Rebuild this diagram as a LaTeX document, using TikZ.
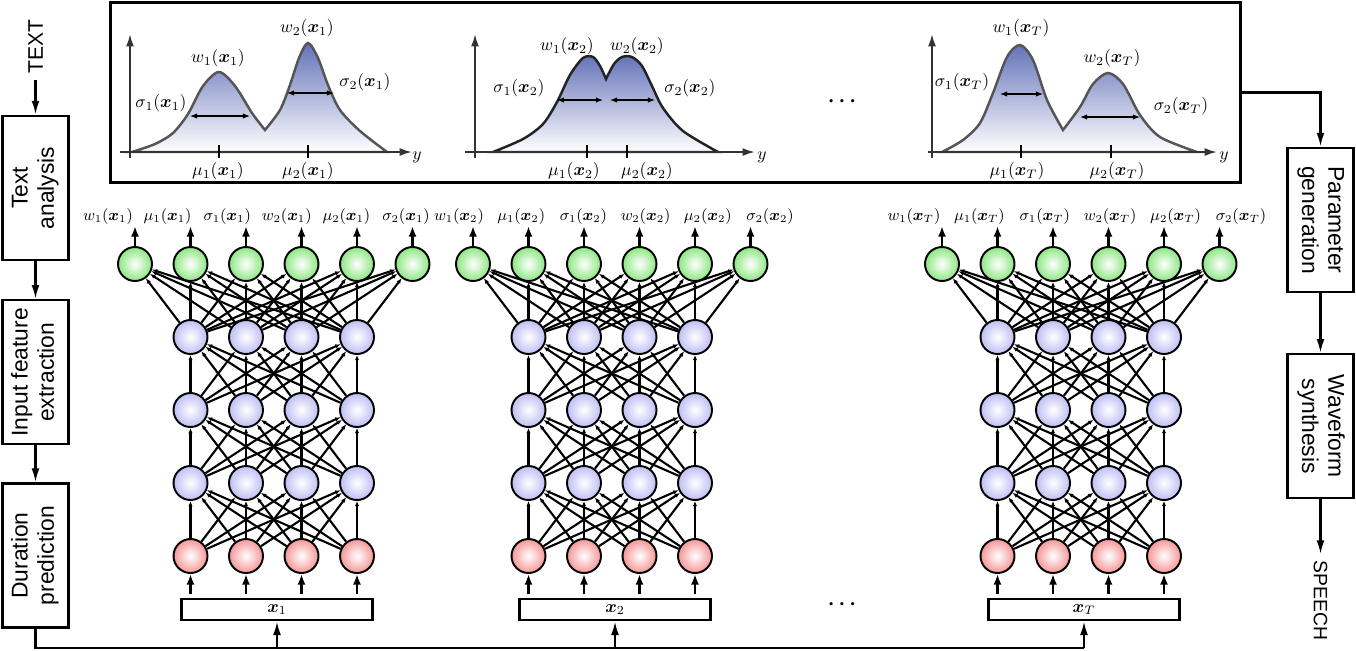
\documentclass[tikz,border=0pt]{standalone}
\usepackage{amsmath, amssymb}
\usepackage{fontspec}
\setsansfont{Liberation Sans}
\usepackage{tikz}
\usepackage{xcolor}
\usetikzlibrary{positioning, arrows.meta}
\definecolor{outgreen}{RGB}{140, 230, 130}
\definecolor{hidblue}{RGB}{190, 190, 245}
\definecolor{inred}{RGB}{245, 150, 150}
\definecolor{mixblue}{RGB}{100, 115, 185}
\definecolor{curvegray}{RGB}{85, 85, 85}
\definecolor{curvedark}{RGB}{35, 35, 35}
\tikzset{
    unit/.style={circle, draw, line width=1.1pt, minimum size=0.68cm, inner sep=0pt},
    outnode/.style={unit, inner color=white, outer color=outgreen},
    hidnode/.style={unit, inner color=white, outer color=hidblue},
    innode/.style={unit, inner color=white, outer color=inred},
    link/.style={line width=1.2pt, -{Latex[length=3pt, width=2.5pt]}},
    netarrow/.style={line width=1.3pt, -{Latex[length=6pt, width=4.5pt]}},
    flow/.style={line width=1.3pt, -{Latex[length=8pt, width=4.5pt]}},
    stage/.style={draw, line width=1.3pt, fill=white, minimum width=1.32cm, minimum height=2.88cm, inner sep=0pt, font=\sffamily\fontsize{13}{15}\selectfont},
    sidetext/.style={font=\sffamily\fontsize{12}{14}\selectfont},
    vecbox/.style={draw, line width=1.2pt, minimum width=3.82cm, minimum height=0.42cm, inner sep=0pt},
    panelbox/.style={draw, line width=1.7pt, minimum width=22.62cm, minimum height=3.62cm},
    mixture/.style={line width=1.4pt, draw=curvegray, top color=mixblue, bottom color=white},
    plotaxis/.style={line width=1.1pt, draw=black!80, -{Latex[length=7pt, width=4.5pt]}},
    mutick/.style={line width=1.1pt},
    spread/.style={line width=0.6pt, {Latex[length=4pt, width=3pt]}-{Latex[length=4pt, width=3pt]}},
    lab/.style={inner sep=0.5pt},
    netlab/.style={inner sep=0.5pt, font=\small}
}

\begin{document}
\begin{tikzpicture}[x=0.02cm, y=-0.02cm]
    \useasboundingbox (0,0) rectangle (1356,650);

    % pipeline on the left
    \node[stage] (ta) at (35.5,188) {\rotatebox{90}{\begin{tabular}{@{}c@{}}Text\\analysis\end{tabular}}};
    \node[stage, below=0.76cm of ta] (ife) {\rotatebox{90}{\begin{tabular}{@{}c@{}}Input feature\\extraction\end{tabular}}};
    \node[stage, below=0.74cm of ife] (dur) {\rotatebox{90}{\begin{tabular}{@{}c@{}}Duration\\prediction\end{tabular}}};
    \node[sidetext, above=0.7cm of ta] (intext) {\rotatebox{90}{TEXT}};
    \draw[flow] (intext) -- (ta);
    \draw[flow] (ta) -- (ife);
    \draw[flow] (ife) -- (dur);

    % pipeline on the right
    \node[stage] (pg) at (1320.5,220) {\rotatebox{-90}{\begin{tabular}{@{}c@{}}Parameter\\generation\end{tabular}}};
    \node[stage, below=1.2cm of pg] (ws) {\rotatebox{-90}{\begin{tabular}{@{}c@{}}Waveform\\synthesis\end{tabular}}};
    \node[sidetext, font=\sffamily\fontsize{11}{13}\selectfont, below=1.1cm of ws] (outspeech) {\rotatebox{-90}{SPEECH}};
    \draw[flow] (pg) -- (ws);
    \draw[flow] (ws) -- (outspeech);

    % mixture panel
    \node[panelbox] (panel) at (675.5,92.5) {};
    \draw[flow] (panel.east) -| (pg.north);

    \shadedraw[mixture] plot[smooth] coordinates {(132,152) (155,144) (173,133) (188,114) (203,86) (219,72) (235,86) (252,113) (265,130)}
        -- plot[smooth] coordinates {(265,130) (280,110) (290,85) (299,58) (308,43) (318,58) (328,85) (340,110) (360,131) (387,152)} -- cycle;
    \shadedraw[mixture, draw=curvedark] plot[smooth] coordinates {(493,152) (523,139) (543,124) (557,102) (570,75) (583,58) (593,57) (600,66) (606,79)}
        -- plot[smooth] coordinates {(606,79) (614,64) (622,57) (632,57) (642,66) (652,86) (663,108) (683,131) (718,152)} -- cycle;
    \shadedraw[mixture] plot[smooth] coordinates {(942,152) (963,140) (980,123) (993,93) (1007,57) (1020,45) (1033,60) (1047,100) (1063,130)}
        -- plot[smooth] coordinates {(1063,130) (1080,107) (1093,84) (1108,73) (1123,84) (1140,115) (1160,137) (1197,152)} -- cycle;

    \foreach \ya/\xa/\xb/\ma/\mb in {130/120/412/219/308, 475/465/755/587/627, 932/928/1217/1021/1111}{
        \draw[plotaxis] (\ya,158) -- (\ya,34);
        \draw[plotaxis] (\xa,152) -- (\xb,152);
        \draw[mutick] (\ma,145) -- (\ma,158);
        \draw[mutick] (\mb,145) -- (\mb,158);
    }

    \draw[spread] (190,116) -- (250,116);
    \draw[spread] (287,93) -- (334,93);
    \draw[spread] (557,100) -- (603,100);
    \draw[spread] (610,100) -- (655,100);
    \draw[spread] (1000,94) -- (1043,94);
    \draw[spread] (1080,117) -- (1140,117);

    \node[lab] (gw1-1) at (218,58) {$w_1(\boldsymbol{x}_1)$};
    \node[lab] (gw2-1) at (307,28) {$w_2(\boldsymbol{x}_1)$};
    \node[lab] (gs1-1) at (161,103) {$\sigma_1(\boldsymbol{x}_1)$};
    \node[lab] (gs2-1) at (365,82) {$\sigma_2(\boldsymbol{x}_1)$};
    \node[lab] (gm1-1) at (218,171) {$\mu_1(\boldsymbol{x}_1)$};
    \node[lab] (gm2-1) at (308,171) {$\mu_2(\boldsymbol{x}_1)$};
    \node[lab] (gy-1) at (417,157) {$y$};

    \node[lab] (gw1-2) at (567,46) {$w_1(\boldsymbol{x}_2)$};
    \node[lab] (gw2-2) at (637,46) {$w_2(\boldsymbol{x}_2)$};
    \node[lab] (gs1-2) at (519,88) {$\sigma_1(\boldsymbol{x}_2)$};
    \node[lab] (gs2-2) at (690,88) {$\sigma_2(\boldsymbol{x}_2)$};
    \node[lab] (gm1-2) at (574,171) {$\mu_1(\boldsymbol{x}_2)$};
    \node[lab] (gm2-2) at (647,171) {$\mu_2(\boldsymbol{x}_2)$};
    \node[lab] (gy-2) at (762,157) {$y$};

    \node[lab] (gw1-T) at (1021,28) {$w_1(\boldsymbol{x}_T)$};
    \node[lab] (gw2-T) at (1112,58) {$w_2(\boldsymbol{x}_T)$};
    \node[lab] (gs1-T) at (962,82) {$\sigma_1(\boldsymbol{x}_T)$};
    \node[lab] (gs2-T) at (1181,106) {$\sigma_2(\boldsymbol{x}_T)$};
    \node[lab] (gm1-T) at (1017,171) {$\mu_1(\boldsymbol{x}_T)$};
    \node[lab] (gm2-T) at (1117,171) {$\mu_2(\boldsymbol{x}_T)$};
    \node[lab] (gy-T) at (1224,157) {$y$};

    \node (dots-top) at (844,102) {\large$\boldsymbol{\cdots}$};
    \node (dots-bot) at (844,604) {\large$\boldsymbol{\cdots}$};

    % one network per frame
    \foreach \col/\xo/\sub/\lx/\lp in {1/0/1/108/59.6, 2/338/2/459/62.2, T/807/T/914/65.4}{
        \foreach \j/\prm in {1/w_1, 2/\mu_1, 3/\sigma_1, 4/w_2, 5/\mu_2, 6/\sigma_2}{
            \node[outnode] (o-\col-\j) at ({\xo+79.5+55.5*\j},264) {};
            \node[netlab, anchor=south] (ol-\col-\j) at ({\lx+\lp*(\j-1)},226) {$\prm(\boldsymbol{x}_{\sub})$};
            \draw[netarrow] (o-\col-\j) -- (o-\col-\j |- ol-\col-\j.south);
        }
        \foreach \r/\yy in {1/337, 2/410, 3/483}
            \foreach \i in {1,...,4}
                \node[hidnode] (h-\col-\r-\i) at ({\xo+135+55.5*\i},\yy) {};
        \foreach \i in {1,...,4}
            \node[innode] (x-\col-\i) at ({\xo+135+55.5*\i},556) {};
        \node[vecbox] (vec-\col) at ({\xo+277},609.5) {$\boldsymbol{x}_{\sub}$};
        \foreach \i in {1,...,4}{
            \draw[netarrow, shorten <=2pt] (vec-\col.north -| x-\col-\i) -- (x-\col-\i);
            \foreach \j in {1,...,6}
                \draw[link] (h-\col-1-\i) -- (o-\col-\j);
            \foreach \k in {1,...,4}{
                \draw[link] (h-\col-2-\i) -- (h-\col-1-\k);
                \draw[link] (h-\col-3-\i) -- (h-\col-2-\k);
                \draw[link] (x-\col-\i) -- (h-\col-3-\k);
            }
        }
    }

    % input vectors fed from the duration model
    \coordinate (bus) at (0,648);
    \draw[line width=1.3pt] (dur.south) |- (vec-T.south |- bus);
    \foreach \col in {1,2,T}
        \draw[flow] (vec-\col.south |- bus) -- (vec-\col.south);
\end{tikzpicture}
\end{document}
